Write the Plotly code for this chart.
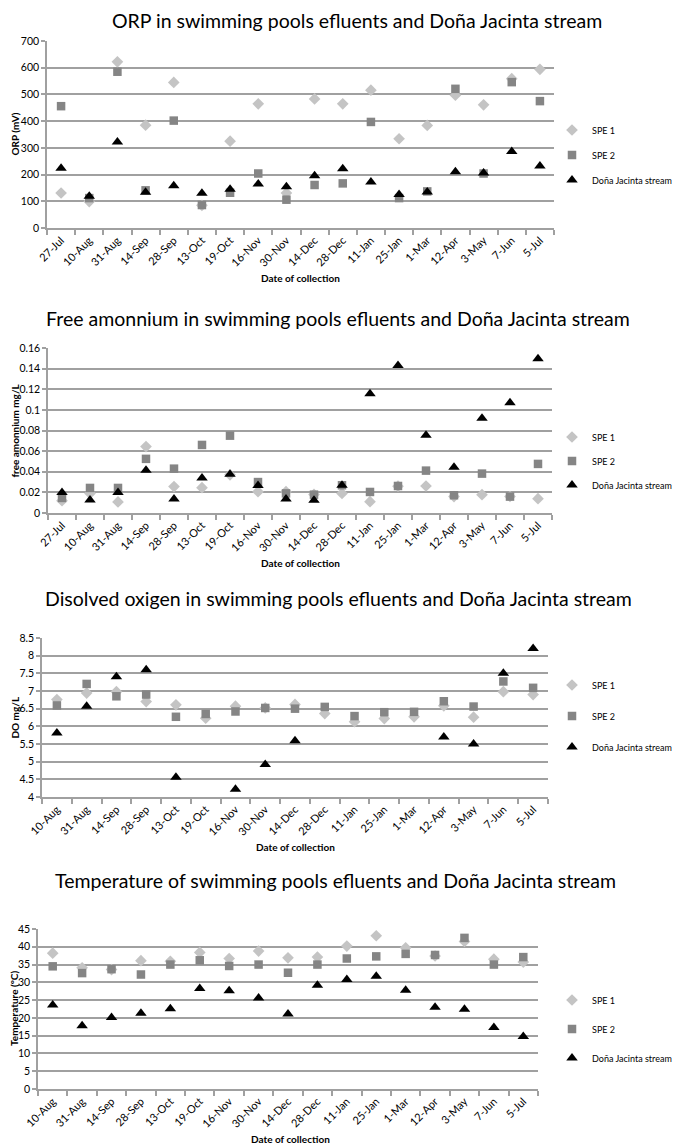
import plotly.graph_objects as go

# browser body margin offset
OX, OY = 8, 8
W, H = 685 - OX, 1147 - OY

cats18 = ["27-Jul", "10-Aug", "31-Aug", "14-Sep", "28-Sep", "13-Oct", "19-Oct", "16-Nov", "30-Nov",
          "14-Dec", "28-Dec", "11-Jan", "25-Jan", "1-Mar", "12-Apr", "3-May", "7-Jun", "5-Jul"]
cats17 = cats18[1:]

orp_spe1 = [131, 99, 622, 385, 545, 85, 325, 465, 131, 483, 465, 516, 334, 384, 497, 461, 559, 594]
orp_spe2 = [456, 112, 585, 141, 402, 86, 132, 204, 106, 161, 167, 397, 112, 137, 521, 204, 546, 475]
orp_dj = [224, 119, 322, 134, 158, 130, 145, 165, 154, 196, 222, 172, 125, 135, 211, 206, 286, 232]

nh4_spe1 = [0.012, 0.019, 0.0107, 0.0644, 0.0256, 0.0246, 0.037, 0.0207, 0.0207, 0.018, 0.019, 0.011,
            0.026, 0.0262, 0.0159, 0.0178, 0.016, 0.0139]
nh4_spe2 = [0.0146, 0.0243, 0.0243, 0.0525, 0.043, 0.066, 0.075, 0.030, 0.019, 0.0178, 0.0269, 0.0204,
            0.0262, 0.0411, 0.0172, 0.0382, 0.0159, 0.0476]
nh4_dj = [0.0198, 0.0126, 0.020, 0.0415, 0.0136, 0.034, 0.0376, 0.0266, 0.0136, 0.0123, 0.027, 0.1156,
          0.143, 0.0755, 0.0444, 0.092, 0.107, 0.1496]

do_spe1 = [6.76, 6.94, 6.98, 6.7, 6.61, 6.23, 6.57, 6.52, 6.62, 6.36, 6.13, 6.22, 6.27, 6.58, 6.26, 6.98, 6.9]
do_spe2 = [6.59, 7.2, 6.85, 6.9, 6.27, 6.35, 6.42, 6.52, 6.5, 6.55, 6.29, 6.4, 6.41, 6.71, 6.56, 7.27, 7.09]
do_dj = [5.81, 6.57, 7.4, 7.6, 4.56, None, 4.22, 4.92, 5.59, None, None, None, None, 5.7, 5.5, 7.5, 8.2]

temp_spe1 = [38.2, 34.1, 33.6, 36.1, 35.9, 38.4, 36.7, 38.8, 36.9, 37.1, 40.2, 43.1, 39.7, 37.4, 41.5, 36.5, 35.7]
temp_spe2 = [34.5, 32.6, 33.7, 32.2, 35.0, 36.2, 34.6, 35.0, 32.7, 35.0, 36.7, 37.3, 38.0, 37.7, 42.5, 35.0, 37.1]
temp_dj = [23.6, 17.8, 20.1, 21.3, 22.6, 28.3, 27.6, 25.6, 21.1, 29.2, 30.8, 31.7, 27.8, 23.0, 22.4, 17.3, 14.8]

series_names = ["SPE 1", "SPE 2", "Doña Jacinta stream"]
titles = ["ORP in swimming pools efluents and Doña Jacinta stream",
          "Free amonnium in swimming pools efluents and Doña Jacinta stream",
          "Disolved oxigen in swimming pools efluents and Doña Jacinta stream",
          "Temperature of swimming pools efluents and Doña Jacinta stream"]
ytitles = ["ORP (mV)", "free amonnium mg/L", "DO mg/L", "Temperature (°C)"]
xtitle = "Date of collection"

panels = [
    dict(cats=cats18, data=[orp_spe1, orp_spe2, orp_dj], yr=[0, 700], dt=100,
         px=(47, 554), py=(41, 228), title_y=21, title_x=357, xt_y=278, xt_x=300, yt_x=14,
         leg_y=155, gap=6),
    dict(cats=cats18, data=[nh4_spe1, nh4_spe2, nh4_dj], yr=[0, 0.16], dt=0.02,
         px=(48, 552), py=(348, 513), title_y=318, title_x=338, xt_y=563, xt_x=300, yt_x=14,
         leg_y=461, gap=5),
    dict(cats=cats17, data=[do_spe1, do_spe2, do_dj], yr=[4, 8.5], dt=0.5,
         px=(42, 548), py=(638, 797), title_y=598, title_x=338, xt_y=847, xt_x=295, yt_x=14,
         leg_y=716, gap=12),
    dict(cats=cats17, data=[temp_spe1, temp_spe2, temp_dj], yr=[0, 45], dt=5,
         px=(38, 538), py=(929, 1089), title_y=880, title_x=335, xt_y=1139, xt_x=290, yt_x=14,
         leg_y=1029, gap=10),
]

styles = [
    dict(symbol="diamond", color="#c4c4c4", size=9),
    dict(symbol="square", color="#858585", size=8.5),
    dict(symbol="triangle-up", color="#000000", size=10),
]

FONT = "Lato"
grid_c = "#a0a0a0"


def fx(px):
    return (px - OX) / W


def fy(py):
    return 1 - (py - OY) / H


fig = go.Figure()
annotations = []
layout = {}

for i, p in enumerate(panels):
    n = i + 1
    xa = "x" if n == 1 else f"x{n}"
    ya = "y" if n == 1 else f"y{n}"
    leg = "legend" if n == 1 else f"legend{n}"
    for j, (vals, st) in enumerate(zip(p["data"], styles)):
        fig.add_trace(go.Scatter(
            x=p["cats"], y=vals, mode="markers", name=series_names[j],
            marker=dict(symbol=st["symbol"], color=st["color"], size=st["size"],
                        line=dict(width=0)),
            xaxis=xa, yaxis=ya, legend=leg, legendgroup=f"g{n}_{j}",
            showlegend=True, cliponaxis=False,
        ))
    x0, x1 = fx(p["px"][0]), fx(p["px"][1])
    y0, y1 = fy(p["py"][1]), fy(p["py"][0])
    layout[f"xaxis{'' if n == 1 else n}"] = dict(
        domain=[x0, x1], anchor=ya, type="category", categoryorder="array",
        categoryarray=p["cats"], range=[-0.5, len(p["cats"]) - 0.5],
        tickson="boundaries", ticks="outside", ticklen=5, tickcolor=grid_c, tickwidth=1.5,
        showline=True, linecolor=grid_c, linewidth=1.5, showgrid=False, zeroline=False,
        tickangle=-45, tickfont=dict(family=FONT, size=11, color="#000"),
        automargin=False,
    )
    layout[f"yaxis{'' if n == 1 else n}"] = dict(
        domain=[y0, y1], anchor=xa, range=p["yr"], dtick=p["dt"], tick0=p["yr"][0],
        ticks="outside", ticklen=4, tickcolor=grid_c, tickwidth=1.5,
        showline=True, linecolor=grid_c, linewidth=1.5,
        showgrid=True, gridcolor=grid_c, gridwidth=1.5, zeroline=False,
        tickfont=dict(family=FONT, size=10.5, color="#000"), automargin=False,
    )
    layout[leg] = dict(
        x=fx(552), y=fy(p["leg_y"]), xanchor="left", yanchor="middle",
        font=dict(family=FONT, size=9, color="#000"), tracegroupgap=p["gap"],
        bgcolor="rgba(0,0,0,0)", itemsizing="trace", itemwidth=30,
    )
    annotations.append(dict(
        text=titles[i], x=fx(p["title_x"]), y=fy(p["title_y"]), xref="paper", yref="paper",
        xanchor="center", yanchor="middle", showarrow=False,
        font=dict(family=FONT, size=19.5, color="#000")))
    annotations.append(dict(
        text=f"<b>{xtitle}</b>", x=fx(p["xt_x"]), y=fy(p["xt_y"]), xref="paper", yref="paper",
        xanchor="center", yanchor="middle", showarrow=False,
        font=dict(family=FONT, size=10, color="#000")))
    annotations.append(dict(
        text=f"<b>{ytitles[i]}</b>", x=fx(p["yt_x"]), y=fy((p["py"][0] + p["py"][1]) / 2),
        xref="paper", yref="paper", xanchor="center", yanchor="middle", showarrow=False,
        textangle=-90, font=dict(family=FONT, size=10, color="#000")))

fig.update_layout(
    width=W, height=H, margin=dict(l=0, r=0, t=0, b=0),
    paper_bgcolor="white", plot_bgcolor="white",
    annotations=annotations, **layout,
)

fig.write_html("out.html")
